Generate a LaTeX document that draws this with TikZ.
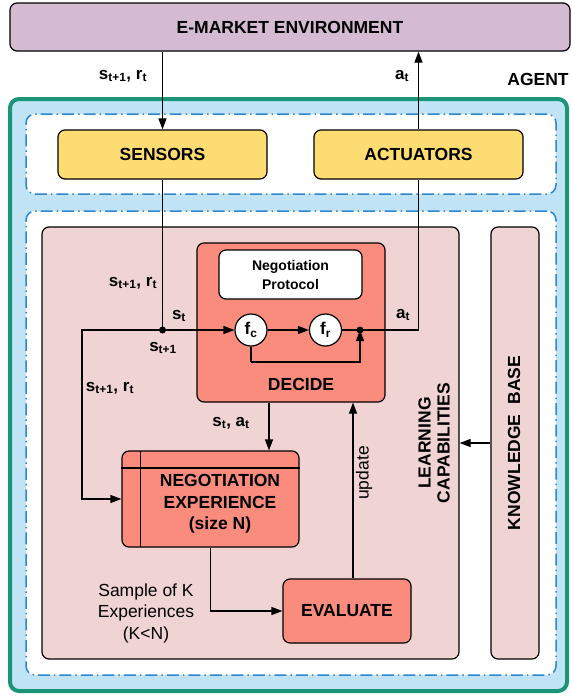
\documentclass[tikz,border=0pt]{standalone}
\usepackage{fontspec}
\setmainfont{Liberation Sans}
\usetikzlibrary{arrows.meta,calc}
\definecolor{emcol}{HTML}{D4BBD2}
\definecolor{agentblue}{HTML}{C0E4F5}
\definecolor{agentgreen}{HTML}{1B9477}
\definecolor{dashblue}{HTML}{2B87D0}
\definecolor{yellowbox}{HTML}{FDDC72}
\definecolor{pinkbox}{HTML}{F0D4D4}
\definecolor{salmon}{HTML}{FA8C7E}
\begin{document}
\begin{tikzpicture}[x=1pt,y=-1pt,
  every node/.style={font=\fontsize{17}{21}\selectfont},
  box/.style={draw=black,line width=1.2pt,rounded corners=7pt,inner sep=0pt,align=center,font=\fontsize{17.5}{21.5}\selectfont\bfseries},
  dashbox/.style={draw=dashblue,line width=1.5pt,fill=white,rounded corners=9pt,dash pattern=on 12pt off 4pt on 1.5pt off 4pt,inner sep=0pt},
  arr/.style={line width=1.2pt,-{Triangle[length=11pt,width=8pt]}},
  ln/.style={line width=1.2pt},
  lbl/.style={font=\fontsize{17}{21}\selectfont\bfseries,inner sep=1pt},
  plain/.style={font=\fontsize{17.5}{21.5}\selectfont,align=center,inner sep=0pt},
  junction/.style={circle,fill=black,inner sep=0pt,minimum size=7pt},
  fnode/.style={circle,draw=black,line width=1.2pt,fill=white,minimum size=32pt,inner sep=0pt,font=\fontsize{17}{21}\selectfont\bfseries}
]
\useasboundingbox (0,0) rectangle (571,696);

% environment
\node[box,fill=emcol,minimum width=560pt,minimum height=48pt] (em) at (290,27) {E-MARKET ENVIRONMENT};

% agent
\node[draw=agentgreen,line width=4pt,fill=agentblue,rounded corners=9pt,minimum width=557pt,minimum height=592pt,inner sep=0pt] (agent) at (288.5,395) {};
\node[font=\fontsize{17.5}{21}\selectfont\bfseries] (agentlbl) at (538,79) {AGENT};

\node[dashbox,minimum width=530pt,minimum height=80pt] (upper) at (291,154) {};
\node[dashbox,minimum width=530pt,minimum height=464pt] (lower) at (291,443) {};

\node[box,fill=yellowbox,minimum width=209pt,minimum height=49pt] (sensors) at (162.5,154.5) {SENSORS};
\node[box,fill=yellowbox,minimum width=209pt,minimum height=49pt] (actuators) at (418.5,154.5) {ACTUATORS};

% learning capabilities and knowledge base
\node[box,fill=pinkbox,minimum width=417pt,minimum height=432pt] (lc) at (250.5,443) {};
\node[box,fill=pinkbox,minimum width=48pt,minimum height=432pt] (kb) at (515,443) {};
\node[rotate=90,font=\fontsize{17.5}{19}\selectfont\bfseries,align=center] (lctext) at (434,443) {LEARNING\\CAPABILITIES};
\node[rotate=90,font=\fontsize{17.5}{21}\selectfont\bfseries] (kbtext) at (514,443) {KNOWLEDGE\ \ BASE};

% decide
\node[box,fill=salmon,minimum width=188pt,minimum height=159pt] (decide) at (291,322.5) {};
\node[font=\fontsize{17.5}{21}\selectfont\bfseries] (decidetext) at (301,384) {DECIDE};
\node[box,fill=white,minimum width=143pt,minimum height=49pt,font=\fontsize{14}{19}\selectfont\bfseries] (np) at (290.5,274.5) {Negotiation\\Protocol};
\node[fnode] (fc) at (251,330) {f\textsubscript{c}};
\node[fnode] (fr) at (325.5,330) {f\textsubscript{r}};

% negotiation experience
\node[box,fill=salmon,minimum width=177pt,minimum height=96pt] (negexp) at (210.5,499) {};
\draw[ln] (negexp.west |- 0,468) -- (negexp.east |- 0,468);
\draw[ln] (140.7,451) -- (140.7,547);
\node[font=\fontsize{17.5}{21.5}\selectfont\bfseries,align=center] (negtext) at (220,504) {NEGOTIATION\\EXPERIENCE\\(size N)};

% evaluate
\node[box,fill=salmon,minimum width=128pt,minimum height=64pt] (eval) at (347,611) {EVALUATE};

% junctions
\coordinate (j1) at (sensors.south |- fc.west);
\coordinate (j2) at (360,330);
\coordinate (lft) at (82,330);
\coordinate (fb) at (251,362);

% connectors
\draw[arr] (em.south -| sensors.north) -- (sensors.north);
\draw[arr] (actuators.north) -- (actuators.north |- em.south);
\draw[ln] (sensors.south) -- (j1);
\draw[arr] (j1) -- (fc.west);
\draw[arr] (j1) -- (lft) |- (negexp.west);
\draw[arr] (fc.east) -- (fr.west);
\draw[ln] (fr.east) -- (j2) -| (actuators.south);
\draw[ln] (fc.south) -- (fb);
\draw[arr] (fb) -| (j2);
\draw[arr] ([xshift=-22pt]decide.south) -- ([xshift=-22pt]decide.south |- negexp.north);
\draw[arr] (negexp.south) |- (eval.west);
\draw[arr] ([xshift=6pt]eval.north) -- ([xshift=6pt]eval.north |- decide.south);
\draw[arr] (kb.west) -- (lc.east);
\node[junction] (dot1) at (j1) {};
\node[junction] (dot2) at (j2) {};

% labels
\node[lbl] (l1) at (123,76) {s\textsubscript{t+1}, r\textsubscript{t}};
\node[lbl] (l2) at (402,76) {a\textsubscript{t}};
\node[lbl] (l3) at (133,283) {s\textsubscript{t+1}, r\textsubscript{t}};
\node[lbl] (l4) at (179,316) {s\textsubscript{t}};
\node[lbl] (l5) at (163,348) {s\textsubscript{t+1}};
\node[lbl] (l6) at (110,388) {s\textsubscript{t+1}, r\textsubscript{t}};
\node[lbl] (l7) at (403,315) {a\textsubscript{t}};
\node[lbl] (l8) at (231,423) {s\textsubscript{t}, a\textsubscript{t}};
\node[plain,rotate=90] (upd) at (364,473) {update};
\node[plain] (sample) at (146,613) {Sample of K\\Experiences\\(K<N)};
\end{tikzpicture}
\end{document}
